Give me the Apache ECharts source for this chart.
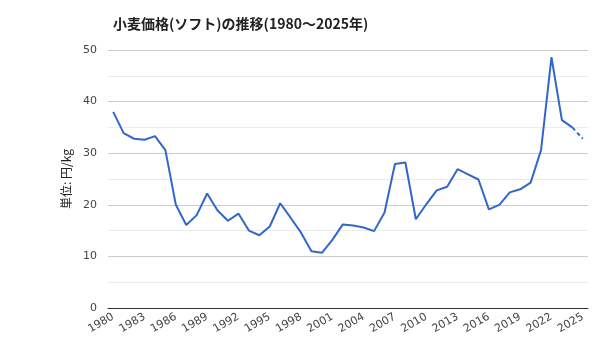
<!DOCTYPE html>
<html><head><meta charset="utf-8">
<script src="https://cdn.jsdelivr.net/npm/echarts@6/dist/echarts.min.js"></script>
<style>html,body{margin:0;padding:0;background:#fff}#c{width:600px;height:360px}</style>
</head><body><div id="c"></div>
<script>
const years = [];
for (let y = 1980; y <= 2025; y++) years.push(String(y));
const prices = [38.0,33.9,32.8,32.6,33.3,30.6,20.0,16.1,18.0,22.2,
  18.9,16.9,18.3,15.0,14.1,15.8,20.3,17.5,14.6,11.0,
  10.7,13.2,16.2,16.0,15.6,14.9,18.5,27.9,28.2,17.2,
  20.1,22.8,23.5,26.9,25.9,24.9,19.1,20.0,22.4,23.0,
  24.3,30.6,48.6,36.4,35.0,32.8];
const forecastFrom = 2024; // last segment drawn dashed
const yTicks = [0,10,20,30,40,50];
const titleText = '小麦価格(ソフト)の推移(1980〜2025年)';
const yName = '単位: 円/kg';

const fIdx = years.indexOf(String(forecastFrom));
const solid = prices.map((v,i)=> i<=fIdx ? v : null);
const dashed = prices.map((v,i)=> i>=fIdx ? v : null);
const cjk = '"Noto Sans CJK JP", "Noto Sans", sans-serif';
const lat = '"DejaVu Sans", "Noto Sans CJK JP", sans-serif';

const chart = echarts.init(document.getElementById('c'), null, {renderer:'canvas'});
chart.setOption({
  animation:false,
  title:{text:titleText,left:108,top:12,textStyle:{fontSize:14,fontWeight:'bold',color:'#222',fontFamily:cjk}},
  grid:{left:108,right:12,top:50,bottom:52},
  xAxis:{type:'category',data:years,boundaryGap:true,
    axisLine:{show:true,lineStyle:{color:'#333',width:1}},
    axisTick:{show:false},
    axisLabel:{interval:2,rotate:30,color:'#444',fontSize:11,fontFamily:lat,margin:8},
    splitLine:{show:false}},
  yAxis:{type:'value',min:yTicks[0],max:yTicks[yTicks.length-1],interval:10,
    name:yName,nameLocation:'middle',nameGap:36,nameRotate:90,
    nameTextStyle:{color:'#222',fontSize:12,fontFamily:cjk},
    axisLine:{show:false},axisTick:{show:false},
    axisLabel:{color:'#444',fontSize:11,fontFamily:lat,margin:11},
    splitLine:{lineStyle:{color:'#cccccc'}},
    minorTick:{show:false,splitNumber:2},
    minorSplitLine:{show:true,lineStyle:{color:'#ebebeb'}}},
  series:[
    {type:'line',data:solid,showSymbol:false,symbol:'none',lineStyle:{color:'#3366cc',width:2},itemStyle:{color:'#3366cc'},z:3},
    {type:'line',data:dashed,showSymbol:false,symbol:'none',lineStyle:{color:'#3366cc',width:2,type:[4,3]},itemStyle:{color:'#3366cc'},z:3}
  ]
});
</script></body></html>
